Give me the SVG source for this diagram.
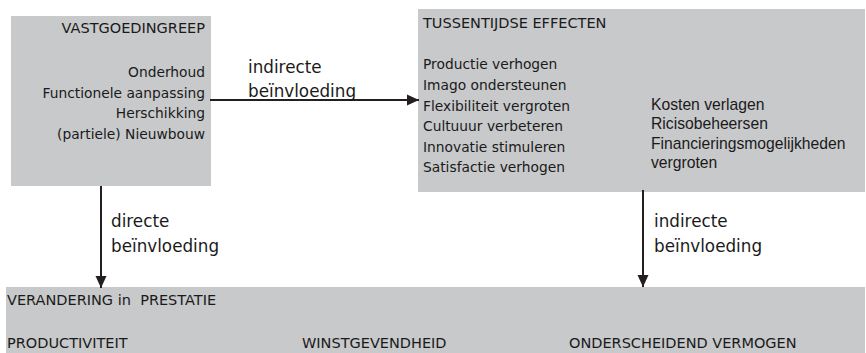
<svg xmlns="http://www.w3.org/2000/svg" width="866" height="353" viewBox="0 0 866 353">
  <style>
    .box { fill: #c8c9cb; }
    .t { font-family: "DejaVu Sans", Verdana, sans-serif; font-size: 13.8px; fill: #1a1a1a; }
    .cap { font-family: "DejaVu Sans", Verdana, sans-serif; font-size: 14.5px; fill: #1a1a1a; }
    .a { font-family: "Liberation Sans", Arial, sans-serif; font-size: 15.7px; fill: #1a1a1a; }
    .lbl { font-family: "DejaVu Sans", Verdana, sans-serif; font-size: 16.8px; fill: #1a1a1a; }
    .r { text-anchor: end; }
    .edge { stroke: #231f20; stroke-width: 2; fill: none; }
  </style>
  <defs>
    <marker id="arrow" viewBox="0 0 12 12" refX="12" refY="6" markerWidth="12" markerHeight="12" markerUnits="userSpaceOnUse" orient="auto">
      <path d="M0,0.5 L12,6 L0,11.5 Z" fill="#231f20"/>
    </marker>
  </defs>

  <g id="vastgoedingreep">
    <rect class="box" x="11" y="16" width="200" height="170"/>
    <text class="cap r" x="205" y="33" font-size="14.2">VASTGOEDINGREEP</text>
    <text class="t r" x="205" y="77">Onderhoud</text>
    <text class="t r" x="205" y="98">Functionele aanpassing</text>
    <text class="t r" x="205" y="118">Herschikking</text>
    <text class="t r" x="205" y="139">(partiele) Nieuwbouw</text>
  </g>

  <g id="tussentijdse-effecten">
    <rect class="box" x="418" y="9" width="447" height="183"/>
    <text class="cap" x="423" y="28">TUSSENTIJDSE EFFECTEN</text>
    <text class="t" x="423" y="69">Productie verhogen</text>
    <text class="t" x="423" y="90">Imago ondersteunen</text>
    <text class="t" x="423" y="111">Flexibiliteit vergroten</text>
    <text class="t" x="423" y="131">Cultuuur verbeteren</text>
    <text class="t" x="423" y="152">Innovatie stimuleren</text>
    <text class="t" x="423" y="172">Satisfactie verhogen</text>
    <text class="a" x="651" y="110">Kosten verlagen</text>
    <text class="a" x="651" y="129">Ricisobeheersen</text>
    <text class="a" x="651" y="149">Financieringsmogelijkheden</text>
    <text class="a" x="651" y="168">vergroten</text>
  </g>

  <g id="verandering-in-prestatie">
    <rect class="box" x="6" y="287" width="859" height="66"/>
    <text class="cap" x="7" y="305" xml:space="preserve">VERANDERING in  PRESTATIE</text>
    <text class="cap" x="7" y="348">PRODUCTIVITEIT</text>
    <text class="cap" x="302" y="348">WINSTGEVENDHEID</text>
    <text class="cap" x="569" y="348">ONDERSCHEIDEND VERMOGEN</text>
  </g>

  <g id="connectors">
    <line class="edge" x1="210" y1="100" x2="419" y2="100" marker-end="url(#arrow)"/>
    <line class="edge" x1="101" y1="186" x2="101" y2="288" marker-end="url(#arrow)"/>
    <line class="edge" x1="643" y1="190" x2="643" y2="287" marker-end="url(#arrow)"/>
    <text class="lbl" x="248" y="73">indirecte</text>
    <text class="lbl" x="248" y="97">beïnvloeding</text>
    <text class="lbl" x="111" y="227">directe</text>
    <text class="lbl" x="111" y="252">beïnvloeding</text>
    <text class="lbl" x="654" y="227">indirecte</text>
    <text class="lbl" x="654" y="252">beïnvloeding</text>
  </g>
</svg>
